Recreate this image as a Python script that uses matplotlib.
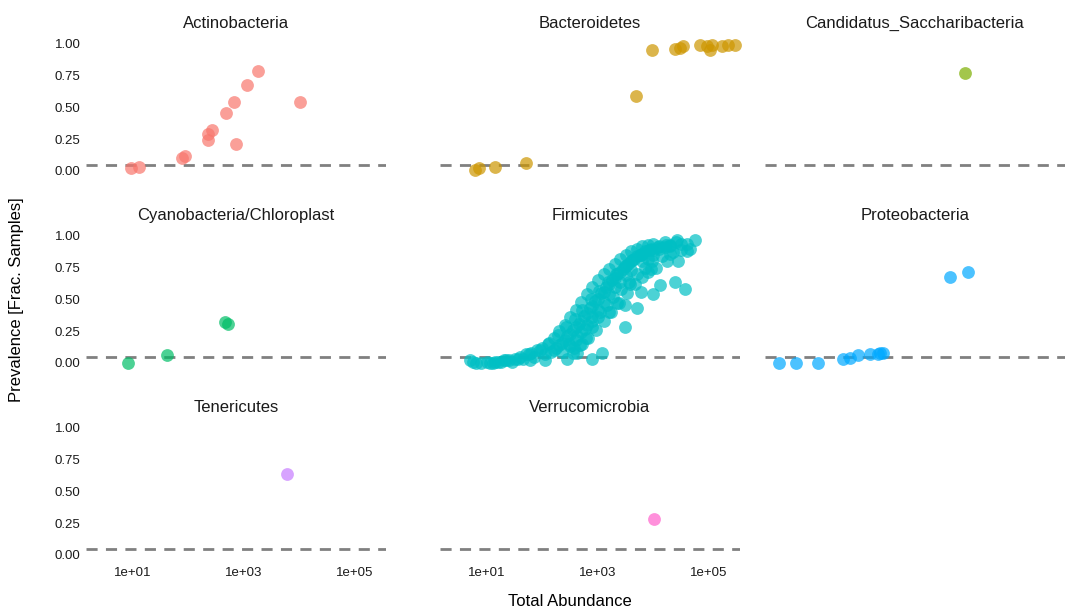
import numpy as np
import matplotlib
matplotlib.use("Agg")
import matplotlib.pyplot as plt

plt.rcParams['font.family'] = ['Liberation Sans', 'DejaVu Sans']

phyla = ["Actinobacteria", "Bacteroidetes", "Candidatus_Saccharibacteria",
         "Cyanobacteria/Chloroplast", "Firmicutes", "Proteobacteria",
         "Tenericutes", "Verrucomicrobia"]
colors = ["#F8766D", "#CD9600", "#7CAE00", "#00BE67", "#00BFC4", "#00A9FF", "#C77CFF", "#FF61CC"]

# log10(total abundance), prevalence
actino_x = [0.96, 1.11, 1.88, 1.94, 2.35, 2.35, 2.42, 2.68, 2.82, 2.86, 3.05, 3.25, 4.01]
actino_y = [0.02, 0.03, 0.10, 0.12, 0.24, 0.29, 0.32, 0.46, 0.54, 0.21, 0.68, 0.79, 0.54]
bact_x = [0.78, 0.86, 1.14, 1.70, 3.68, 3.97, 4.39, 4.48, 4.53, 4.84, 4.96, 5.02, 5.05, 5.23, 5.34, 5.47]
bact_y = [0.01, 0.02, 0.03, 0.06, 0.59, 0.95, 0.96, 0.97, 0.98, 0.99, 0.98, 0.95, 0.99, 0.98, 0.99, 0.99]
cand_x = [3.76]
cand_y = [0.77]
cyano_x = [0.91, 1.61, 2.66, 2.71]
cyano_y = [0.00, 0.06, 0.32, 0.31]
firm_x = [0.70, 0.8, 0.9, 1.0, 1.1, 1.2, 1.3, 1.4, 1.5, 1.6, 1.7, 1.8, 1.9, 2.0, 2.1, 2.2, 2.3, 2.4,
          2.5, 2.6, 2.7, 2.8, 2.9, 3.0, 3.1, 3.2, 3.3, 3.4, 3.5, 3.6, 3.7, 3.8, 3.9, 4.0, 4.2, 4.4, 4.6,
          1.05, 1.25, 1.45, 1.65, 1.85, 2.05, 2.15, 2.25, 2.35, 2.45, 2.55, 2.65, 2.75, 2.85, 2.95,
          3.05, 3.15, 3.25, 3.35, 3.45, 3.55, 3.65, 3.75, 3.85, 3.95, 4.1, 4.3, 4.5,
          2.2, 2.3, 2.4, 2.5, 2.6, 2.7, 2.8, 2.9, 3.0, 3.1, 3.2, 3.3, 3.4, 3.5, 3.6, 3.7, 3.8, 4.0, 4.1, 4.2, 4.3,
          2.5, 2.6, 2.7, 2.8, 2.9, 3.0, 3.1, 3.2, 3.3, 3.4, 3.5, 3.6, 3.8, 3.9, 4.0,
          2.44, 2.89, 3.08, 3.49, 3.71, 3.99, 4.56, 4.38, 4.11, 4.45, 4.74, 4.43, 3.77, 3.49, 3.34, 2.89, 3.00,
          2.71, 2.56, 2.05, 1.78, 0.75, 1.15, 1.35, 1.55, 2.62, 2.78, 3.2, 3.58, 4.25, 4.05, 3.9,
          1.75, 1.95, 2.12, 2.28, 2.42, 2.58, 2.72, 2.88, 3.02, 3.18, 3.32, 3.48, 3.62, 3.78, 3.92, 4.08, 4.22,
          2.35, 2.48, 2.62, 2.76, 2.9, 3.04, 3.16, 3.28, 3.42, 3.56, 3.7, 3.84, 3.98, 4.15, 4.35, 4.5, 4.65,
          2.55, 2.68, 2.82, 2.96, 3.1, 3.24, 3.38, 3.52, 3.66, 3.8, 3.95, 4.3, 4.6]
firm_y = [0.02, 0.00, 0.00, 0.01, 0.00, 0.01, 0.02, 0.02, 0.03, 0.05, 0.07, 0.08, 0.10, 0.12, 0.15, 0.20, 0.25, 0.30,
          0.36, 0.42, 0.48, 0.54, 0.60, 0.65, 0.70, 0.74, 0.78, 0.82, 0.85, 0.88, 0.90, 0.92, 0.93, 0.94, 0.95, 0.95, 0.94,
          0.00, 0.01, 0.01, 0.03, 0.05, 0.07, 0.09, 0.12, 0.16, 0.21, 0.26, 0.31, 0.37, 0.43, 0.49,
          0.55, 0.60, 0.65, 0.70, 0.74, 0.78, 0.82, 0.85, 0.88, 0.90, 0.92, 0.93, 0.94,
          0.10, 0.14, 0.18, 0.23, 0.28, 0.33, 0.39, 0.45, 0.50, 0.56, 0.62, 0.67, 0.72, 0.76, 0.80, 0.84, 0.86, 0.89, 0.90, 0.91, 0.92,
          0.13, 0.18, 0.24, 0.30, 0.36, 0.42, 0.48, 0.54, 0.60, 0.64, 0.69, 0.73, 0.80, 0.82, 0.85,
          0.03, 0.03, 0.08, 0.28, 0.43, 0.54, 0.58, 0.64, 0.61, 0.80, 0.97, 0.97, 0.56, 0.46, 0.47, 0.28, 0.36,
          0.15, 0.12, 0.02, 0.02, 0.01, 0.01, 0.02, 0.03, 0.08, 0.20, 0.40, 0.62, 0.80, 0.75, 0.72,
          0.07, 0.10, 0.16, 0.22, 0.28, 0.35, 0.42, 0.50, 0.57, 0.64, 0.70, 0.76, 0.81, 0.85, 0.89, 0.91, 0.93,
          0.09, 0.15, 0.21, 0.27, 0.33, 0.40, 0.46, 0.52, 0.58, 0.64, 0.70, 0.75, 0.80, 0.84, 0.87, 0.89, 0.90,
          0.08, 0.14, 0.20, 0.26, 0.33, 0.40, 0.47, 0.55, 0.62, 0.68, 0.74, 0.86, 0.88]
proteo_x = [0.41, 0.71, 1.11, 1.56, 1.68, 1.83, 2.05, 2.19, 2.22, 2.28, 3.49, 3.81]
proteo_y = [0.00, 0.00, 0.00, 0.03, 0.04, 0.06, 0.07, 0.07, 0.08, 0.08, 0.68, 0.72]
tener_x = [3.77]
tener_y = [0.64]
verru_x = [4.01]
verru_y = [0.28]

data = [(actino_x, actino_y), (bact_x, bact_y), (cand_x, cand_y), (cyano_x, cyano_y),
        (firm_x, firm_y), (proteo_x, proteo_y), (tener_x, tener_y), (verru_x, verru_y)]

W, H = 1080, 612
fig = plt.figure(figsize=(W / 100, H / 100), dpi=100)
lefts = [86, 440, 765]
tops = [37.6, 229.6, 421.6]
pw, ph = 300, 139.7
xlim = (10 ** 0.153, 10 ** 5.56)

for i, (name, (xs, ys)) in enumerate(zip(phyla, data)):
    r, c = divmod(i, 3)
    ax = fig.add_axes([lefts[c] / W, 1 - (tops[r] + ph) / H, pw / W, ph / H])
    ax.scatter(10 ** np.array(xs), ys, s=85, color=colors[i], alpha=0.7, linewidths=0,
               zorder=3, clip_on=False)
    ax.axhline(0.05, color="#808080", lw=2, ls=(0, (4, 3)), zorder=2)
    ax.set_xscale("log")
    ax.set_xlim(*xlim)
    ax.set_ylim(-0.05, 1.05)
    for s in ax.spines.values():
        s.set_visible(False)
    ax.tick_params(length=0, labelsize=9.5, colors="#1a1a1a", pad=4)
    ax.minorticks_off()
    ax.set_xticks([1e1, 1e3, 1e5])
    ax.set_yticks([0, 0.25, 0.5, 0.75, 1.0])
    if c == 0:
        ax.set_yticklabels(["0.00", "0.25", "0.50", "0.75", "1.00"])
    else:
        ax.set_yticklabels([])
    if r == 2:
        ax.set_xticklabels(["1e+01", "1e+03", "1e+05"])
    else:
        ax.set_xticklabels([])
    ax.set_title(name, fontsize=12, color="#1a1a1a", pad=7)

fig.text(570 / W, 1 - 601 / H, "Total Abundance", ha="center", va="center", fontsize=12)
fig.text(17 / W, 1 - 300 / H, "Prevalence [Frac. Samples]", ha="center", va="center",
         rotation=90, fontsize=12)
fig.savefig("out.png", dpi=100)
